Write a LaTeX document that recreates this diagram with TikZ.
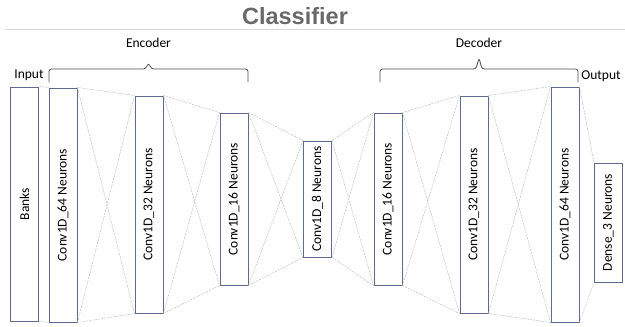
\documentclass[tikz,border=0pt]{standalone}
\usepackage{fontspec}
\setmainfont{Carlito}
\newfontfamily\titlefont{Liberation Sans}
\usepackage{tikz}
\usetikzlibrary{calc}
\definecolor{boxline}{RGB}{92,108,138}
\definecolor{titlegray}{RGB}{105,105,105}
\newcommand{\makelayer}[5]{
	\node[layer, minimum height=#4pt] (#1) at (#2,#3) {\rotatebox{90}{#5}};
}
\newcommand{\makebrace}[4]{
	\draw[bracket] (#1) -- ++(0,-13) -- ($(#1)!0.5!(#2)+(-3,-13)$) -- ($(#1)!0.5!(#2)+(0,-#3)$) -- ($(#1)!0.5!(#2)+(3,-13)$) -- ($(#2)+(0,-13)$) -- (#2);
	\node[label text] at ($(#1)!0.5!(#2)+(0,-39)$) {#4};
}

\begin{document}
\begin{tikzpicture}[x=1pt,y=-1pt,
	layer/.style={draw=boxline, line width=1pt, minimum width=28pt, inner sep=0pt, font=\fontsize{13.5}{16}\selectfont},
	link/.style={gray!50, line width=0.5pt, dash pattern=on 2pt off 1pt},
	bracket/.style={black!70, line width=0.8pt, rounded corners=2.5pt},
	label text/.style={font=\fontsize{13.5}{16}\selectfont}]
	\useasboundingbox (0,0) rectangle (625,327);

	\node[font=\titlefont\bfseries\fontsize{23.5}{28}\selectfont, text=titlegray] (title) at (295,16) {Classifier};
	\draw[gray!30, line width=0.8pt] (5,29.5) -- (625,29.5);

	\makelayer{banks}{24.5}{204}{234}{Banks}
	\makelayer{enc64}{63}{205}{234}{Conv1D\_64 Neurons}
	\makelayer{enc32}{149}{204.5}{217}{Conv1D\_32 Neurons}
	\makelayer{enc16}{234}{199}{172}{Conv1D\_16 Neurons}
	\makelayer{mid8}{317.5}{199}{116}{Conv1D\_8 Neurons}
	\makelayer{dec16}{388}{199}{172}{Conv1D\_16 Neurons}
	\makelayer{dec32}{474}{204.5}{217}{Conv1D\_32 Neurons}
	\makelayer{dec64}{565}{204.5}{235}{Conv1D\_64 Neurons}
	\makelayer{dense}{608.5}{222.5}{119}{Dense\_3 Neurons}

	\foreach \a/\b in {banks/enc64, enc64/enc32, enc32/enc16, enc16/mid8, mid8/dec16, dec16/dec32, dec32/dec64, dec64/dense} {
		\draw[link] (\a.north east) -- (\b.north west);
		\draw[link] (\a.south east) -- (\b.south west);
	}
	\foreach \a/\b in {enc64/enc32, enc32/enc16, enc16/mid8, mid8/dec16, dec16/dec32, dec32/dec64} {
		\draw[link] (\a.north east) -- (\b.south west);
		\draw[link] (\a.south east) -- (\b.north west);
	}

	\coordinate (encL) at (49,82);
	\coordinate (encR) at (248,82);
	\coordinate (decL) at (380,82);
	\coordinate (decR) at (578,82);
	\makebrace{encL}{encR}{19}{Encoder}
	\makebrace{decL}{decR}{24}{Decoder}

	\node[label text] (input) at (29,75) {Input};
	\node[label text] (output) at (601,76) {Output};
\end{tikzpicture}
\end{document}
